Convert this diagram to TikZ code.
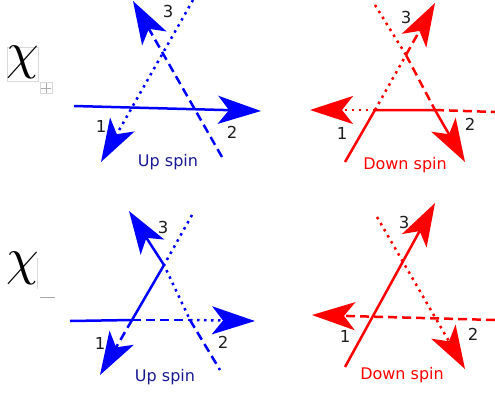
\documentclass[tikz,border=0pt]{standalone}
\usepackage{graphicx}
\usepackage{fontspec}
\setsansfont{DejaVu Sans}
\usetikzlibrary{arrows.meta}
\definecolor{spinblue}{RGB}{0,0,255}
\definecolor{spinred}{RGB}{255,0,0}
\definecolor{uptext}{RGB}{25,25,150}
\definecolor{numtext}{RGB}{30,30,30}
\tikzset{
  ln/.style={line width=2.5pt},
  dotln/.style={line width=2.5pt, dash pattern=on 2.5pt off 4.5pt},
  dashln/.style={line width=2.5pt, dash pattern=on 9pt off 5pt},
  bigtip/.style={-{Stealth[length=43pt,width=28pt,inset=11pt]}},
  num/.style={text=numtext, font=\sffamily\fontsize{16.5}{18}\selectfont, inner sep=0pt},
  spinlbl/.style={font=\sffamily\fontsize{16}{18}\selectfont, inner sep=0pt},
  faintbox/.style={draw=gray!30, line width=0.4pt}
}
\begin{document}
\begin{tikzpicture}[x=1pt,y=-1pt]
\useasboundingbox (0,0) rectangle (495,394);
\fill[white] (0,0) rectangle (495,394);

% ---------- chi labels ----------
\draw[faintbox] (7,47) rectangle (38,81);
\node[inner sep=0pt] (chip) at (22.5,62) {\scalebox{5.2}{$\chi$}};
\draw[faintbox] (40,82) rectangle (52,93);
\coordinate (pl) at (41,88);
\coordinate (pr) at (51,88);
\coordinate (pt) at (46,83);
\coordinate (pb) at (46,93);
\draw[gray!65, line width=1pt] (pl) -- (pr) (pt) -- (pb);
\draw[faintbox] (37,258) -- (37,289);
\node[inner sep=0pt] (chim) at (22.5,268) {\scalebox{5.2}{$\chi$}};
\coordinate (mA) at (40,297);
\coordinate (mB) at (55,297);
\draw[gray!70, line width=1pt] (mA) -- (mB);

% ---------- Panel A: top-left, up spin ----------
\begin{scope}[spinblue]
\coordinate (a1) at (74,106);
\coordinate (a2) at (261,111);
\coordinate (a3) at (193,0);
\coordinate (a4) at (101,162);
\coordinate (a5) at (222,157);
\coordinate (a6) at (133,1);
\draw[ln, bigtip] (a1) -- (a2);
\draw[dotln, bigtip] (a3) -- (a4);
\draw[dashln, bigtip] (a5) -- (a6);
\end{scope}
\node[num] (na3) at (168,11) {3};
\node[num] (na1) at (101,126) {1};
\node[num] (na2) at (232,132) {2};
\node[spinlbl, text=uptext] (upA) at (168,162) {Up spin};

% ---------- Panel B: top-right, down spin ----------
\begin{scope}[spinred]
\coordinate (b1) at (345,162);
\coordinate (b2) at (375,110);
\coordinate (b3) at (435,110);
\coordinate (b4) at (465,162);
\coordinate (b5) at (375,5);
\coordinate (bx) at (406,55);
\coordinate (b6) at (435,3);
\coordinate (b7) at (310,110);
\coordinate (b8) at (495,112);
\draw[ln, bigtip, line join=miter] (b1) -- (b2) -- (b3) -- (b4);
\draw[dotln] (b5) -- (bx);
\draw[dashln] (bx) -- (b3);
\draw[dotln] (b2) -- (bx);
\draw[dashln, bigtip] (bx) -- (b6);
\draw[dotln, bigtip] (b2) -- (b7);
\draw[dashln] (b3) -- (b8);
\end{scope}
\node[num] (nb3) at (406,17) {3};
\node[num] (nb1) at (342,133) {1};
\node[num] (nb2) at (470,124) {2};
\node[spinlbl, text=spinred] (dnB) at (405,165) {Down spin};

% ---------- Panel C: bottom-left, up spin ----------
\begin{scope}[spinblue]
\coordinate (c1) at (70,321);
\coordinate (c2) at (132,320);
\coordinate (c3) at (164,265);
\coordinate (c4) at (129,211);
\coordinate (c5) at (190,320);
\coordinate (c6) at (255,321);
\coordinate (c7) at (192,215);
\coordinate (c8) at (220,370);
\coordinate (c9) at (100,375);
\draw[ln, bigtip, line join=miter] (c1) -- (c2) -- (c3) -- (c4);
\draw[dashln] (c2) -- (c5);
\draw[dotln, bigtip] (c5) -- (c6);
\draw[dotln] (c7) -- (c3) -- (c5);
\draw[dashln] (c5) -- (c8);
\draw[dashln, bigtip] (c2) -- (c9);
\end{scope}
\node[num] (nc3) at (163,227) {3};
\node[num] (nc1) at (100,343) {1};
\node[num] (nc2) at (223,342) {2};
\node[spinlbl, text=uptext] (upC) at (165,377) {Up spin};

% ---------- Panel D: bottom-right, down spin ----------
\begin{scope}[spinred]
\coordinate (d1) at (495,320);
\coordinate (d2) at (312,315);
\coordinate (d3) at (345,367);
\coordinate (d4) at (435,203);
\coordinate (d5) at (377,217);
\coordinate (d6) at (465,369);
\draw[dashln, bigtip] (d1) -- (d2);
\draw[ln, bigtip] (d3) -- (d4);
\draw[dotln, bigtip] (d5) -- (d6);
\end{scope}
\node[num] (nd3) at (404,222) {3};
\node[num] (nd1) at (345,336) {1};
\node[num] (nd2) at (473,334) {2};
\node[spinlbl, text=spinred] (dnD) at (402,375) {Down spin};
\end{tikzpicture}
\end{document}
